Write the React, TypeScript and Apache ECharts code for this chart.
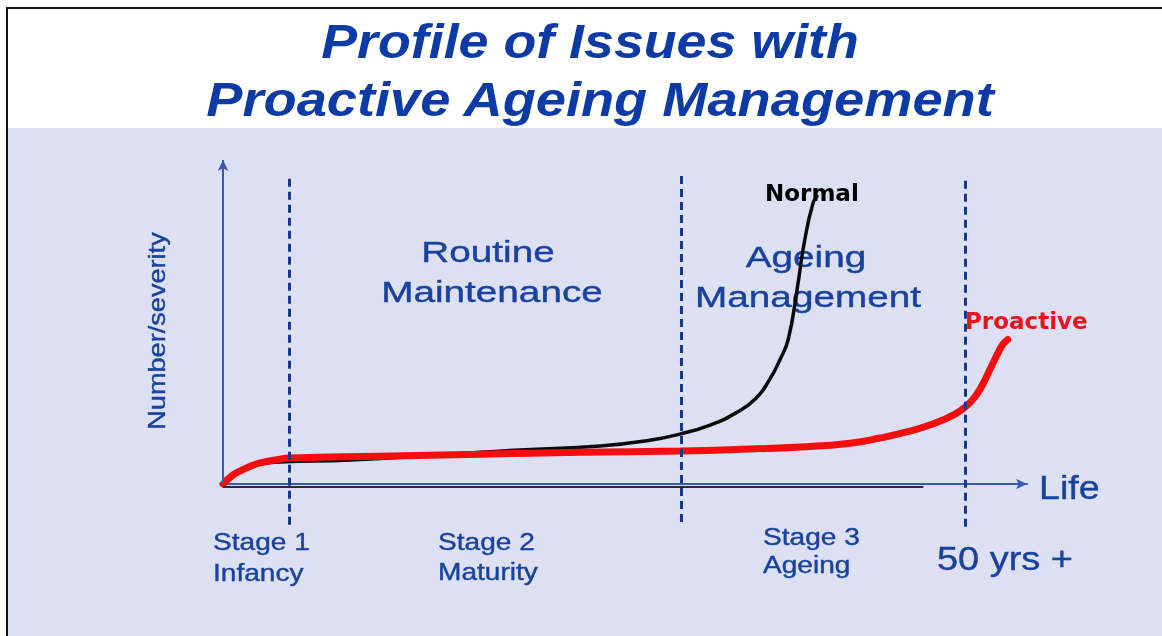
import React, { useEffect, useRef } from "react";
import * as echarts from "echarts";

// ---- data (life in % of plotted span, severity in % of axis height) ----
const normalLife = [0.25, 2.1, 4.6, 7.1, 15.8, 28.2, 36.9, 46.9, 53.1, 56.8, 60.6, 63.7, 66.2, 68.0, 69.3, 70.3, 71.4, 72.3, 73.4, 74.0];
const normalSeverity = [0.3, 4.0, 6.2, 6.8, 7.4, 9.2, 10.5, 11.7, 13.5, 15.4, 18.2, 21.8, 26.2, 32.3, 38.5, 44.6, 60.0, 74.5, 86.8, 89.2];
const proactiveLife = [0, 1.1, 2.1, 3.4, 4.6, 6.5, 8.3, 19.5, 32.0, 44.4, 56.8, 65.5, 71.8, 78.0, 81.7, 85.4, 88.6, 91.0, 92.3, 93.5, 94.5, 95.4, 96.3, 97.0, 97.6];
const proactiveSeverity = [0, 2.5, 4.0, 5.5, 6.5, 7.4, 8.0, 8.6, 9.2, 9.8, 10.2, 10.8, 11.4, 12.6, 14.2, 16.3, 18.8, 21.5, 23.7, 26.8, 30.8, 35.4, 40.0, 43.1, 44.6];
const boundaryLife = [8.3, 57.05, 92.3];
const boundaryTop = [95.1, 96.0, 93.8];
const boundaryBottom = [-12.6, -11.7, -13.2];
const shadowEnd = 87.1;

const titleLines = ["Profile of Issues with", "Proactive Ageing Management"];
const phaseLabels = [["Routine", "Maintenance"], ["Ageing", "Management"]];
const stageLabels = [["Stage 1", "Infancy"], ["Stage 2", "Maturity"], ["Stage 3", "Ageing"]];
const yAxisName = "Number/severity";
const xAxisName = "Life";
const endLabel = "50 yrs +";
const seriesNames = ["Normal", "Proactive"];

const BLUE = "#18429e";
const FONT = "'Liberation Sans', Arial, sans-serif";
const BOLD = "'DejaVu Sans', Verdana, sans-serif";

export default function App() {
  const ref = useRef<HTMLDivElement>(null);

  useEffect(() => {
    if (!ref.current) return;
    const chart = echarts.init(ref.current, undefined, { renderer: "svg" });

    const zip = (a: number[], b: number[]) => a.map((v, i) => [v, b[i]]);

    const txt = (
      text: string,
      x: number,
      y: number,
      size: number,
      scaleX: number,
      align: string,
      fill = BLUE,
      extra: any = {}
    ) => ({
      type: "text",
      x,
      y,
      scaleX,
      z: 1,
      style: {
        text,
        fill,
        stroke: extra.noStroke ? undefined : fill,
        lineWidth: extra.noStroke ? 0 : 0.4,
        fontStyle: extra.italic ? "italic" : "normal",
        fontWeight: extra.weight || "normal",
        fontSize: size,
        fontFamily: extra.family || FONT,
        textAlign: align,
        textVerticalAlign: "middle",
      },
      ...(extra.rotation ? { rotation: extra.rotation } : {}),
    });

    const graphic: any[] = [
      { type: "rect", z: 0, shape: { x: 0, y: 0, width: 1162, height: 636 }, style: { fill: "#ffffff" } },
      { type: "rect", z: 0, shape: { x: 8, y: 128, width: 1154, height: 508 }, style: { fill: "#dde0f2" } },
      { type: "line", z: 1, shape: { x1: 6, y1: 8, x2: 1162, y2: 8 }, style: { stroke: "#111", lineWidth: 2 } },
      { type: "line", z: 1, shape: { x1: 7, y1: 7, x2: 7, y2: 636 }, style: { stroke: "#111", lineWidth: 2 } },
      txt(titleLines[0], 590, 42, 48, 1.12, "center", "#0c3aa6", { italic: true, weight: "bold", noStroke: true }),
      txt(titleLines[1], 600, 100, 48, 1.13, "center", "#0c3aa6", { italic: true, weight: "bold", noStroke: true }),
      txt(phaseLabels[0][0], 488, 252, 30, 1.29, "center"),
      txt(phaseLabels[0][1], 492, 292, 30, 1.29, "center"),
      txt(phaseLabels[1][0], 806, 257, 30, 1.29, "center"),
      txt(phaseLabels[1][1], 808, 297, 30, 1.29, "center"),
      txt(stageLabels[0][0], 213, 542, 24, 1.17, "left"),
      txt(stageLabels[0][1], 213, 573, 24, 1.17, "left"),
      txt(stageLabels[1][0], 438, 542, 24, 1.17, "left"),
      txt(stageLabels[1][1], 438, 572, 24, 1.17, "left"),
      txt(stageLabels[2][0], 763, 537, 24, 1.17, "left"),
      txt(stageLabels[2][1], 763, 565, 24, 1.17, "left"),
      txt(endLabel, 937, 559, 33, 1.15, "left"),
      txt(xAxisName, 1039, 487, 34, 1.11, "left"),
      txt(yAxisName, 157, 331, 23, 1.18, "center", BLUE, { rotation: Math.PI / 2 }),
      txt(seriesNames[0], 765, 193, 23, 1, "left", "#000000", { weight: "bold", family: BOLD, noStroke: true }),
      txt(seriesNames[1], 965, 321, 23, 1, "left", "#e8141c", { weight: "bold", family: BOLD, noStroke: true }),
    ];

    const dashed = boundaryLife.map((x, i) => [
      { coord: [x, boundaryBottom[i]], symbol: "none" },
      {
        coord: [x, boundaryTop[i]],
        symbol: "none",
        lineStyle: { color: "#17388c", width: 3, type: [8, 5] },
      },
    ]);

    const option: any = {
      animation: false,
      backgroundColor: "transparent",
      graphic,
      grid: { left: 223, top: 160, width: 804, height: 372.6, containLabel: false },
      xAxis: {
        type: "value",
        min: 0,
        max: 100,
        z: 3,
        axisLine: {
          show: true,
          onZero: true,
          symbol: ["none", "arrow"],
          symbolSize: [8, 11],
          lineStyle: { color: "#3858b4", width: 2 },
        },
        axisTick: { show: false },
        axisLabel: { show: false },
        splitLine: { show: false },
      },
      yAxis: {
        type: "value",
        min: -15,
        max: 100,
        axisLine: { show: false },
        axisTick: { show: false },
        axisLabel: { show: false },
        splitLine: { show: false },
      },
      series: [
        {
          name: seriesNames[0],
          type: "line",
          data: zip(normalLife, normalSeverity),
          showSymbol: false,
          symbol: "none",
          smooth: 0.5,
          z: 3,
          lineStyle: { color: "#0a0a0a", width: 3.5 },
          markLine: {
            silent: true,
            animation: false,
            label: { show: false },
            data: [
              [
                { coord: [0, 0], symbol: "none" },
                {
                  coord: [0, 100],
                  symbol: "arrow",
                  symbolSize: [8, 11],
                  lineStyle: { color: "#3858b4", width: 2, type: "solid" },
                },
              ],
              [
                { coord: [0, -0.8], symbol: "none" },
                {
                  coord: [shadowEnd, -0.8],
                  symbol: "none",
                  lineStyle: { color: "#2a2a3a", width: 2, type: "solid" },
                },
              ],
            ],
          },
        },
        {
          name: seriesNames[1],
          type: "line",
          data: zip(proactiveLife, proactiveSeverity),
          showSymbol: false,
          symbol: "none",
          smooth: 0.5,
          z: 4,
          lineStyle: { color: "#f70d0d", width: 7, cap: "round" },
        },
        {
          name: "boundaries",
          type: "line",
          data: [[0, 0]],
          showSymbol: false,
          symbol: "none",
          z: 5,
          lineStyle: { width: 0, opacity: 0 },
          markLine: {
            silent: true,
            animation: false,
            label: { show: false },
            data: dashed,
          },
        },
      ],
    };

    chart.setOption(option);
    return () => chart.dispose();
  }, []);

  return (
    <div
      ref={ref}
      style={{ position: "fixed", left: 0, top: 0, width: 1162, height: 636 }}
    />
  );
}
